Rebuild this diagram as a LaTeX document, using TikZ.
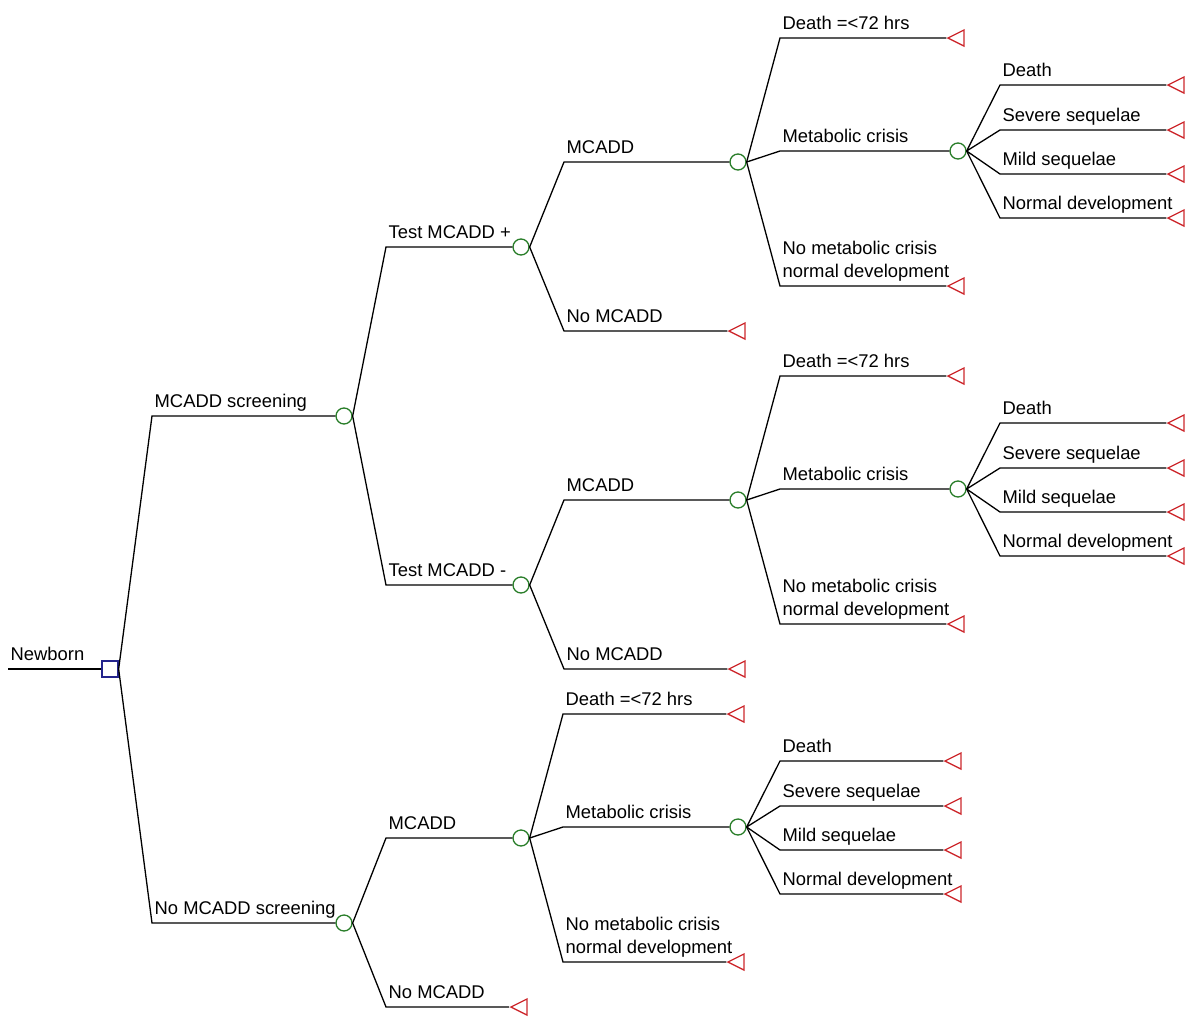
\documentclass[tikz,border=0pt]{standalone}
\usepackage{fontspec}
\setmainfont{Liberation Sans}
\usepackage{tikz}
\usetikzlibrary{calc,shapes.geometric}
\definecolor{decblue}{RGB}{35,35,140}
\definecolor{chgreen}{RGB}{40,125,40}
\definecolor{endred}{RGB}{205,40,45}

\begin{document}
\begin{tikzpicture}[x=0.5pt,y=-0.5pt,line width=0.65pt,
	font=\fontsize{9.2}{11.3}\selectfont,
	decision/.style={draw=decblue,rectangle,minimum size=8pt,inner sep=0pt},
	chance/.style={draw=chgreen,circle,minimum size=8pt,inner sep=0pt},
	payoff/.style={draw=endred,isosceles triangle,shape border rotate=180,isosceles triangle stretches,minimum width=8pt,minimum height=8pt,inner sep=0pt},
	lbl/.style={anchor=base west,inner sep=0pt,xshift=1pt,yshift=4.5pt}]
	\useasboundingbox (0,0) rectangle (1200,1023);
	\node[decision] (nb) at (110,669) {};
	\coordinate (in) at (8,669);
	\draw (in) node[lbl] {Newborn} -- (nb);
	\node[chance] (scr) at (344,416) {};
	\node[chance] (noscr) at (344,923) {};
	\draw (nb.east) -- (152,0 |- scr) node[lbl] {MCADD screening} -- (scr);
	\draw (nb.east) -- (152,0 |- noscr) node[lbl] {No MCADD screening} -- (noscr);
	\node[chance] (tpos) at (521,247) {};
	\node[chance] (tneg) at (521,585) {};
	\node[chance] (bm) at (521,838) {};
	\node[payoff] (bn) at (522,1007) {};
	\draw (scr.east) -- (386,0 |- tpos) node[lbl] {Test MCADD +} -- (tpos);
	\draw (scr.east) -- (386,0 |- tneg) node[lbl] {Test MCADD -} -- (tneg);
	\draw (noscr.east) -- (386,0 |- bm) node[lbl] {MCADD} -- (bm);
	\draw (noscr.east) -- (386,0 |- bn) node[lbl] {No MCADD} -- (bn);
	\foreach \src in {tpos,tneg}{
		\node[chance] (\src m) at ($(\src)+(217,-85)$) {};
		\node[payoff] (\src n) at ($(\src)+(219,84)$) {};
		\draw (\src.east) -- ($(\src)+(43,-85)$) node[lbl] {MCADD} -- (\src m);
		\draw (\src.east) -- ($(\src)+(43,84)$) node[lbl] {No MCADD} -- (\src n);
	}
	\foreach \src/\m/\dx in {tposm/mA/220,tnegm/mB/220,bm/mC/217}{
		\node[payoff] (\m d) at ($(\src)+(\dx+1,-124)$) {};
		\node[chance] (\m) at ($(\src)+(\dx,-11)$) {};
		\node[payoff] (\m n) at ($(\src)+(\dx+1,124)$) {};
		\draw (\src.east) -- ($(\src)+(42,-124)$) node[lbl] {Death =<72 hrs} -- (\m d);
		\draw (\src.east) -- ($(\src)+(42,-11)$) node[lbl] {Metabolic crisis} -- (\m);
		\draw (\src.east) -- ($(\src)+(42,124)$) node[lbl,align=left] {No metabolic crisis\\normal development} -- (\m n);
		\foreach \dy/\txt [count=\i] in {-66/Death,-21/Severe sequelae,23/Mild sequelae,67/Normal development}{
			\node[payoff] (\m\i) at ($(\m)+(\dx+1,\dy)$) {};
			\draw (\m.east) -- ($(\m)+(42,\dy)$) node[lbl] {\txt} -- (\m\i);
		}
	}
\end{tikzpicture}
\end{document}
